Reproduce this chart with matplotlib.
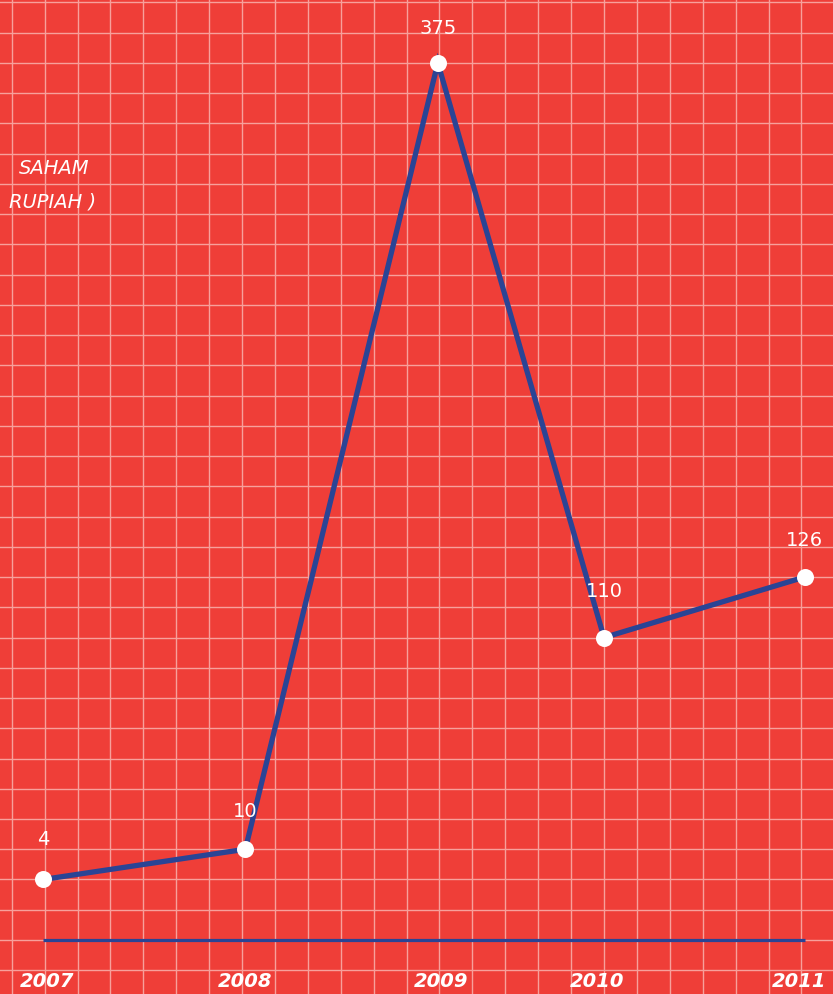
import matplotlib
matplotlib.use("Agg")
import matplotlib.pyplot as plt

# Data (positions read in grid cells from the reference)
years = ["2007", "2008", "2009", "2010", "2011"]
values = [4, 10, 375, 110, 126]
x_cells = [0.95, 7.1, 12.95, 18.0, 24.1]      # horizontal position of each year
y_cells = [2.0, 3.0, 29.0, 10.0, 12.0]        # drawn height of each point
label_lift = [29, 27, 25, 33, 26]            # label offset above point, in pt
year_nudge = [3, 0, 2, -5, -4]               # year label shift, in pt

bg = "#EF3E38"
grid_col = "#F7A09B"
blue = "#2A4495"

plt.rcParams["font.family"] = ["DejaVu Sans"]

fig = plt.figure(figsize=(8.33, 9.94), dpi=100)
ax = fig.add_axes([0, 0, 1, 1])
ax.set_facecolor(bg)
fig.patch.set_facecolor(bg)

ax.set_xlim(-0.356, 24.96)
ax.set_ylim(-1.786, 31.08)

# grid
for gx in range(0, 26):
    ax.axvline(gx, color=grid_col, lw=1.0, zorder=1)
for gy in range(-1, 32):
    ax.axhline(gy, color=grid_col, lw=1.0, zorder=1)

# baseline
ax.plot([x_cells[0], x_cells[-1]], [0, 0], color=blue, lw=2.3, zorder=2,
        solid_capstyle="butt")

# line + markers
ax.plot(x_cells, y_cells, color=blue, lw=3.8, zorder=3, solid_joinstyle="miter")
ax.scatter(x_cells, y_cells, s=150, color="white", zorder=4, linewidths=0)

for x, y, v, lift in zip(x_cells, y_cells, values, label_lift):
    ax.annotate(str(v), (x, y), xytext=(0, lift), textcoords="offset points",
                ha="center", va="center", color="white", fontsize=14,
                zorder=5)

for x, yr, dx in zip(x_cells, years, year_nudge):
    ax.annotate(yr, (x, -1.36), xytext=(dx, 0), textcoords="offset points",
                ha="center", va="center", color="white", fontsize=14,
                fontweight="bold", fontstyle="italic", zorder=5)

# axis title, only the part visible at the left edge in the reference
ax.text(-0.356 + 90 / 32.9, (940 - 169) / 30.24, "SAHAM", ha="right",
        va="center", color="white", fontsize=14, fontstyle="italic")
ax.text(-0.356 + 96 / 32.9, (940 - 202) / 30.24, "RUPIAH )", ha="right",
        va="center", color="white", fontsize=14, fontstyle="italic")

ax.set_xticks([])
ax.set_yticks([])
for s in ax.spines.values():
    s.set_visible(False)

fig.savefig("out.png", dpi=100, facecolor=bg)
